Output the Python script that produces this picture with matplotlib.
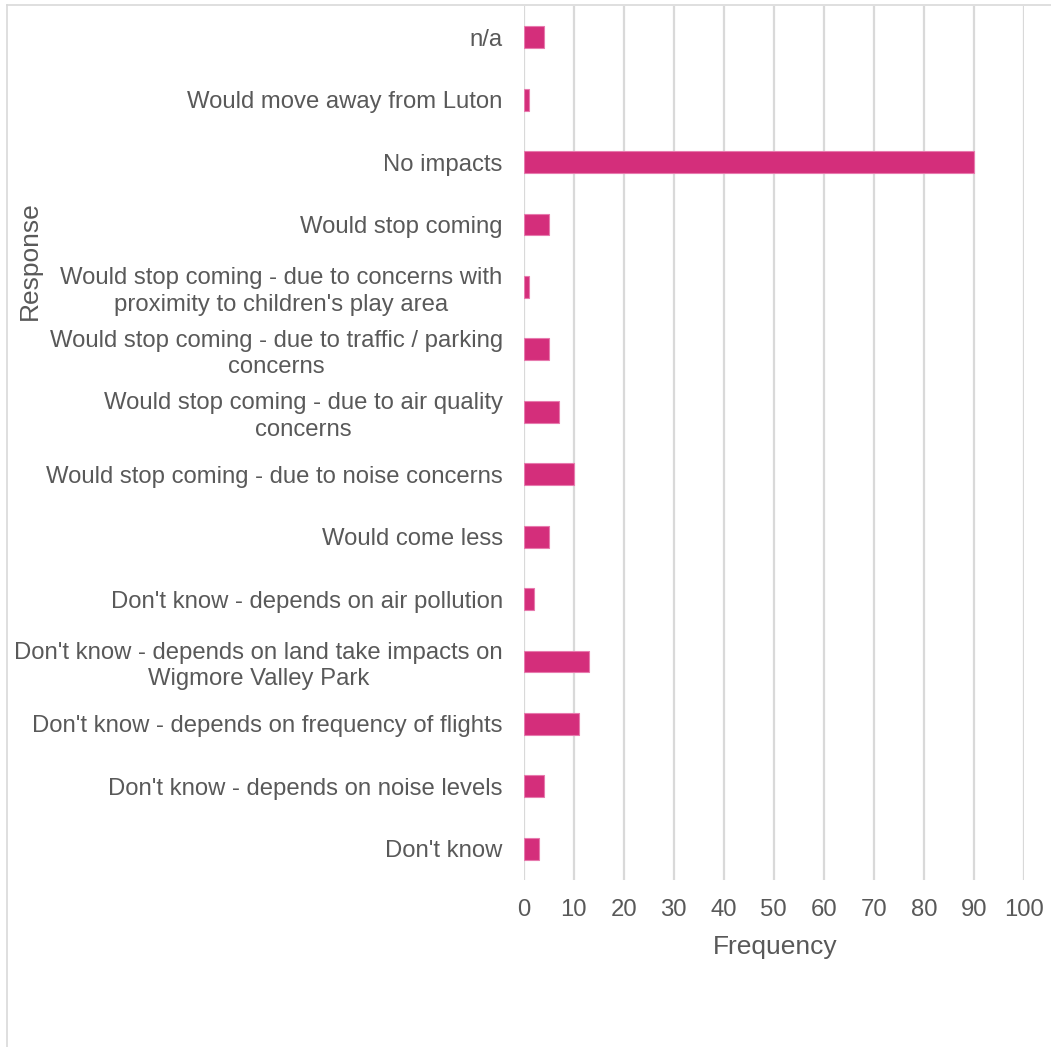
import matplotlib
matplotlib.use('Agg')
from matplotlib import pyplot as plt
from matplotlib.lines import Line2D

responses = [
    "n/a",
    "Would move away from Luton",
    "No impacts",
    "Would stop coming",
    "Would stop coming - due to concerns with\nproximity to children's play area",
    "Would stop coming - due to traffic / parking\nconcerns",
    "Would stop coming - due to air quality\nconcerns",
    "Would stop coming - due to noise concerns",
    "Would come less",
    "Don't know - depends on air pollution",
    "Don't know - depends on land take impacts on\nWigmore Valley Park",
    "Don't know - depends on frequency of flights",
    "Don't know - depends on noise levels",
    "Don't know",
]
frequency = [4, 1, 90, 5, 1, 5, 7, 10, 5, 2, 13, 11, 4, 3]
xticks = [0, 10, 20, 30, 40, 50, 60, 70, 80, 90, 100]

grey = '#595959'
plt.rcParams['font.family'] = ['Liberation Sans', 'DejaVu Sans']

W, H = 1051, 1047
fig = plt.figure(figsize=(W / 100, H / 100), dpi=100)
ax = fig.add_axes([523.5 / W, 1 - 880 / H, (1024 - 523.5) / W, (880 - 6) / H])

ypos = list(range(len(responses)))
ax.barh(ypos, frequency, height=0.35, color='#D42E7B', edgecolor='#E77AAE',
        linewidth=0.8, zorder=3)

ax.set_xlim(0, 100)
ax.set_ylim(len(responses) - 0.5, -0.5)
ax.set_xticks(xticks)
ax.set_yticks(ypos)
ax.set_yticklabels(responses, multialignment='center', linespacing=1.25)
ax.tick_params(axis='both', length=0, labelsize=17.2, labelcolor=grey)
ax.tick_params(axis='y', pad=15)
ax.tick_params(axis='x', pad=13.5)
ax.grid(axis='x', color='#D9D9D9', linewidth=1.6, zorder=0)
for s in ax.spines.values():
    s.set_visible(False)

fig.text(775 / W, 1 - 947 / H, 'Frequency', ha='center', va='center',
         fontsize=19, color=grey)
fig.text(30 / W, 1 - 261 / H, 'Response', ha='center', va='center',
         rotation=90, fontsize=19, color=grey)

# chart area border (top and left edges visible)
fig.add_artist(Line2D([7 / W, 1], [1 - 5 / H, 1 - 5 / H], color='#D9D9D9',
                      linewidth=1.2, transform=fig.transFigure))
fig.add_artist(Line2D([7 / W, 7 / W], [1 - 5 / H, 0], color='#D9D9D9',
                      linewidth=1.2, transform=fig.transFigure))

fig.savefig('out.png', dpi=100, facecolor='white')
